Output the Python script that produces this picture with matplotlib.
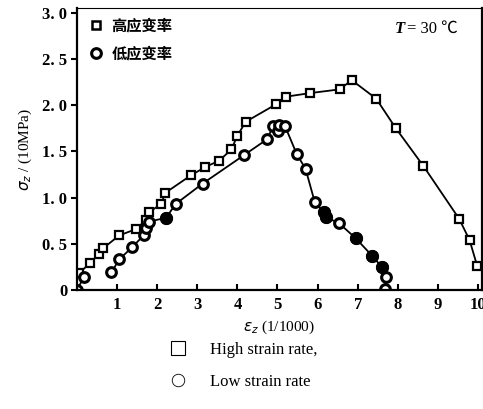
import numpy as np
import matplotlib
matplotlib.use("Agg")
import matplotlib.pyplot as plt
from matplotlib.lines import Line2D

# high strain rate (squares)
hi_x = [0.05, 0.32, 0.55, 0.65, 1.05, 1.48, 1.73, 1.79, 2.1, 2.2, 2.84, 3.2, 3.55,
        3.85, 4.0, 4.21, 4.97, 5.2, 5.82, 6.55, 6.85, 7.46, 7.95, 8.64, 9.53, 9.79, 9.98]
hi_y = [0.18, 0.29, 0.39, 0.45, 0.59, 0.66, 0.76, 0.84, 0.93, 1.05, 1.24, 1.33, 1.4,
        1.52, 1.67, 1.82, 2.01, 2.09, 2.13, 2.17, 2.27, 2.07, 1.75, 1.34, 0.77, 0.54, 0.26]

# low strain rate (circles), nan = break in the line
low_x = [0.0, 0.17, np.nan, 0.86, 1.05, 1.37, 1.66, 1.73, 1.79, 2.22, 2.46, 3.13, 4.17,
         4.74, 4.89, 5.01, 5.04, 5.19, 5.48, 5.7, 5.93, 6.15, 6.2, 6.54, 6.95, 7.36,
         7.6, 7.7, 7.69]
low_y = [0.0, 0.14, np.nan, 0.19, 0.33, 0.46, 0.59, 0.67, 0.74, 0.78, 0.93, 1.15, 1.46,
         1.63, 1.77, 1.72, 1.78, 1.77, 1.47, 1.31, 0.95, 0.84, 0.79, 0.72, 0.56, 0.37,
         0.25, 0.14, 0.01]
low_filled = [2.22, 6.15, 6.2, 6.95, 7.36, 7.6]

yticks = [0, 0.5, 1.0, 1.5, 2.0, 2.5, 3.0]
ytick_labels = ["0", "0. 5", "1. 0", "1. 5", "2. 0", "2. 5", "3. 0"]
xticks = [1, 2, 3, 4, 5, 6, 7, 8, 9, 10]

serif = "Liberation Serif"
cjk = ["Noto Sans CJK SC", "DejaVu Sans"]

fig = plt.figure(figsize=(4.83, 4.09), dpi=100)
ax = fig.add_axes([77/483, 1-290/409, 405/483, 282/409])

ax.plot(hi_x, hi_y, color="k", lw=1.3, marker="s", ms=5.5, mfc="white",
        mec="k", mew=1.6)
ax.plot(low_x, low_y, color="k", lw=1.3, marker="o", ms=7, mfc="white",
        mec="k", mew=2.2)
fx = [x for x in low_x if x in low_filled]
fy = [low_y[low_x.index(x)] for x in fx]
ax.plot(fx, fy, ls="none", marker="o", ms=8.5, mfc="k", mec="k")

ax.set_xlim(0, 10.1)
ax.set_ylim(0, 3.05)
ax.set_yticks(yticks)
ax.set_yticklabels(ytick_labels, fontfamily=serif, fontsize=12, fontweight="bold")
ax.set_xticks(xticks)
ax.set_xticklabels([str(t) for t in xticks], fontfamily=serif, fontsize=12,
                   fontweight="bold")
ax.tick_params(axis="y", direction="out", length=4, width=1.5, pad=3)
ax.tick_params(axis="x", direction="in", length=4, width=1.5, pad=5)
for s in ax.spines.values():
    s.set_linewidth(1.6)
ax.spines["top"].set_linewidth(0.8)

ax.set_ylabel(r"$\sigma_z$ / (10MPa)", fontfamily=serif, fontsize=11, labelpad=6)
ax.set_xlabel(r"$\varepsilon_z$ (1/1000)", fontfamily=serif, fontsize=11,
              labelpad=4)

h1 = Line2D([], [], ls="none", marker="s", ms=6, mfc="white", mec="k", mew=1.8)
h2 = Line2D([], [], ls="none", marker="o", ms=7, mfc="white", mec="k", mew=2.2)
ax.legend([h1, h2], ["高应变率", "低应变率"], loc="upper left", frameon=False,
          prop={"family": cjk, "size": 11, "weight": "bold"},
          handlelength=0.8, handletextpad=0.6, labelspacing=0.8,
          borderaxespad=0.2, bbox_to_anchor=(0.01, 1.0))
ax.text(0.81, 0.955, "T", transform=ax.transAxes, ha="right", va="top",
        fontfamily=serif, fontsize=12, style="italic", fontweight="bold")
ax.text(0.815, 0.955, "= 30 ℃", transform=ax.transAxes, ha="left", va="top",
        fontfamily=["Liberation Serif", "Noto Sans CJK SC"], fontsize=12)

h3 = Line2D([], [], ls="none", marker="s", ms=10, mfc="white", mec="k", mew=0.8)
h4 = Line2D([], [], ls="none", marker="o", ms=9, mfc="white", mec="k", mew=0.6)
fig.legend([h3, h4], ["High strain rate,", "Low strain rate"], loc="upper left",
           bbox_to_anchor=(155/483, 1-327/409), frameon=False,
           prop={"family": serif, "size": 12}, handlelength=1.0,
           handletextpad=1.4, labelspacing=0.95)

fig.savefig("out.png", dpi=100)
